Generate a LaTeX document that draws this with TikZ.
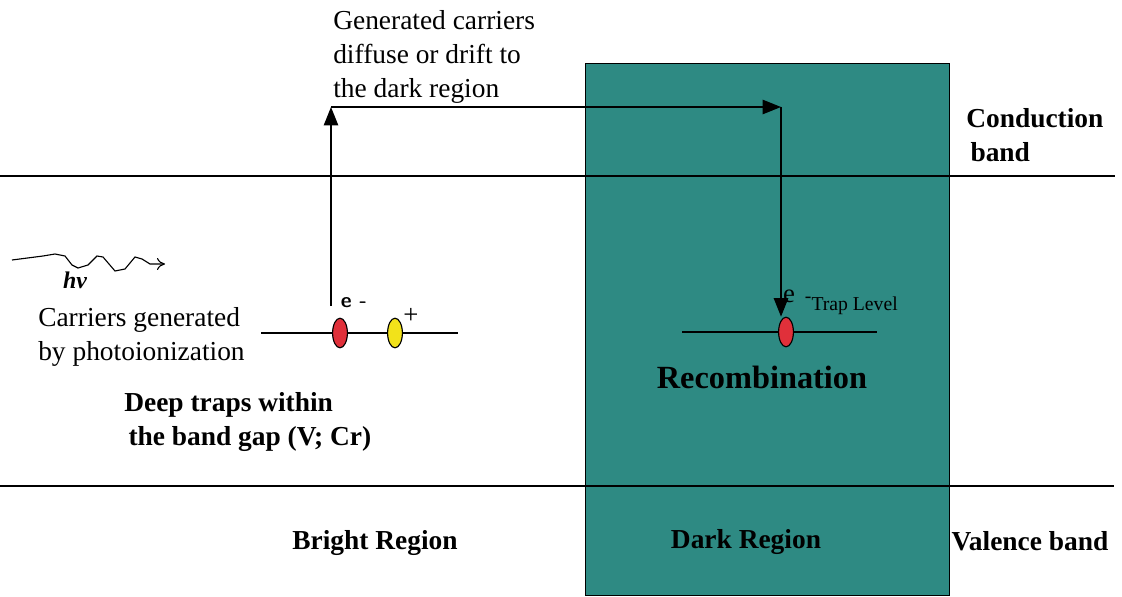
\documentclass[tikz,border=0pt]{standalone}
\usepackage{fontspec}
\setmainfont{Liberation Serif}
\usepackage{xcolor}
\definecolor{Teal}{HTML}{2E8A83}
\definecolor{Electron}{HTML}{E0303A}
\definecolor{Hole}{HTML}{F2E21A}
\usetikzlibrary{arrows.meta,shapes.geometric}

\begin{document}
\begin{tikzpicture}[
  x=0.025cm, y=-0.025cm,
  font=\fontsize{19.5}{24}\selectfont,
  txt/.style={inner sep=0pt,align=left},
  bold/.style={txt,font=\fontsize{19.5}{24}\selectfont\bfseries},
  level/.style={line width=0.9pt},
  carrier/.style={ellipse,draw,line width=0.8pt,minimum width=0.37cm,
    minimum height=0.74cm,inner sep=0pt},
  arrow/.style={-{Triangle[length=0.46cm,width=0.36cm]},line width=0.9pt}
]
\useasboundingbox (0,0) rectangle (1122,597);
% dark region block goes first, so the band edges run across it
\node[draw,fill=Teal,line width=0.8pt,minimum width=9.1cm,minimum height=13.3cm,
  inner sep=0pt,anchor=north west] (dark) at (585,63) {};

% band edges and trap levels
\draw[level] (0,176) -- (1115,176);
\draw[level] (0,486) -- (1114,486);
\draw[level] (261,333) -- (458,333);
\draw[level] (682,332) -- (877,332);

\node[carrier,fill=Electron] (elec) at (340,333) {};
\node[carrier,fill=Hole] (hole) at (395,333) {};
\node[carrier,fill=Electron] (trapped) at (786,332) {};

% path of the generated carrier
\coordinate (rise) at (331,306);
\coordinate (top) at (331,107);
\coordinate (turn) at (781,107);
\draw[arrow] (rise) -- (top);
\draw[arrow] (top) -- (turn);
\draw[arrow] (turn) -- (turn |- trapped.north);

% incoming photon
\draw[line width=0.8pt,-{To[length=0.2cm,width=0.3cm]}] (12,260) -- (43,256) -- (55,254)
  -- (65,256) -- (72,265) -- (78,268) -- (88,265) -- (97,256) -- (103,257)
  -- (115,271) -- (125,269) -- (135,257) -- (142,259) -- (150,264) -- (165,264);
\node[font=\fontsize{17}{20}\selectfont\bfseries\itshape] (hv) at (75,280) {hv};

\node[txt,anchor=west] (gen) at (38,337) {Carriers generated\\by photoionization};
\node[txt,anchor=west] (drift) at (333,57) {Generated carriers\\diffuse or drift to\\the dark region};
\node[bold,anchor=west] (deep) at (124,422) {Deep traps within\\\hspace{3pt}the band gap (V; Cr)};
\node[bold,anchor=west] (cond) at (966,135) {Conduction\\\hspace{3pt}band};
\node[bold,font=\fontsize{23}{28}\selectfont\bfseries] (recomb) at (762,377) {Recombination};
\node[bold] (bright) at (375,543) {Bright Region};
\node[bold] (darklbl) at (746,542) {Dark Region};
\node[bold] (valence) at (1030,541) {Valence band};

\node[font=\sffamily\bfseries\fontsize{15}{18}\selectfont] (eleft) at (354,303) {e -};
\node[font=\fontsize{19}{22}\selectfont] (plus) at (411,316) {+};
\node[font=\fontsize{19}{22}\selectfont] (eright) at (789,296) {e};
\node[anchor=west,font=\fontsize{14}{17}\selectfont] (trap) at (800,306) {\raisebox{6pt}{-}Trap Level};
\end{tikzpicture}
\end{document}
